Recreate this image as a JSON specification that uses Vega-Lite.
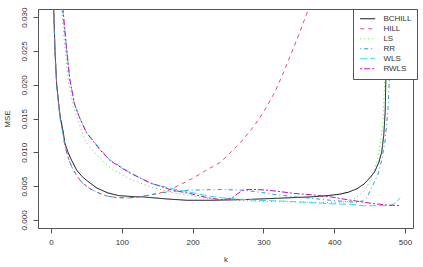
{
  "$schema": "https://vega.github.io/schema/vega-lite/v6.json",
  "width": 375,
  "height": 219,
  "autosize": {"type": "none"},
  "padding": {"left": 38, "top": 9, "right": 10, "bottom": 39},
  "background": "white",
  "config": {
    "font": "Liberation Sans",
    "view": {"stroke": "#555", "strokeWidth": 1},
    "axis": {"grid": false, "domain": false, "tickColor": "#555", "tickSize": 5, "labelColor": "#333", "titleColor": "#333", "labelFontSize": 8, "titleFontSize": 8, "titleFontWeight": "normal", "labelFont": "Liberation Sans", "titleFont": "Liberation Sans"}
  },
  "data": {"values": [
    {"s":"BCHILL","k":2,"v":0.040},{"s":"BCHILL","k":3.8,"v":0.0312},{"s":"BCHILL","k":5.6,"v":0.025},{"s":"BCHILL","k":8,"v":0.020},{"s":"BCHILL","k":11,"v":0.017},{"s":"BCHILL","k":13,"v":0.0152},{"s":"BCHILL","k":17.4,"v":0.0129},{"s":"BCHILL","k":19.4,"v":0.0114},{"s":"BCHILL","k":24,"v":0.0100},{"s":"BCHILL","k":28.7,"v":0.0089},{"s":"BCHILL","k":36,"v":0.0074},{"s":"BCHILL","k":44,"v":0.0064},{"s":"BCHILL","k":52,"v":0.0057},{"s":"BCHILL","k":65,"v":0.0047},{"s":"BCHILL","k":80,"v":0.0040},{"s":"BCHILL","k":95,"v":0.0036},{"s":"BCHILL","k":116,"v":0.00344},{"s":"BCHILL","k":130,"v":0.0034},{"s":"BCHILL","k":163,"v":0.0031},{"s":"BCHILL","k":178,"v":0.0030},{"s":"BCHILL","k":192,"v":0.0029},{"s":"BCHILL","k":225,"v":0.0029},{"s":"BCHILL","k":273,"v":0.0030},{"s":"BCHILL","k":320,"v":0.0032},{"s":"BCHILL","k":367,"v":0.0034},{"s":"BCHILL","k":391,"v":0.0036},{"s":"BCHILL","k":408,"v":0.0038},{"s":"BCHILL","k":420,"v":0.0041},{"s":"BCHILL","k":432,"v":0.0046},{"s":"BCHILL","k":442,"v":0.0053},{"s":"BCHILL","k":451,"v":0.0063},{"s":"BCHILL","k":457,"v":0.0071},{"s":"BCHILL","k":463,"v":0.0085},{"s":"BCHILL","k":467,"v":0.0100},{"s":"BCHILL","k":470,"v":0.0125},{"s":"BCHILL","k":472,"v":0.016},{"s":"BCHILL","k":473,"v":0.021},{"s":"BCHILL","k":474,"v":0.027},{"s":"BCHILL","k":475,"v":0.034},

    {"s":"HILL","k":2,"v":0.040},{"s":"HILL","k":3.8,"v":0.0312},{"s":"HILL","k":5.6,"v":0.025},{"s":"HILL","k":8,"v":0.020},{"s":"HILL","k":11,"v":0.0168},{"s":"HILL","k":13,"v":0.015},{"s":"HILL","k":17.4,"v":0.0125},{"s":"HILL","k":19.4,"v":0.0110},{"s":"HILL","k":24,"v":0.0093},{"s":"HILL","k":29,"v":0.0079},{"s":"HILL","k":36,"v":0.0066},{"s":"HILL","k":43,"v":0.0056},{"s":"HILL","k":55,"v":0.0046},{"s":"HILL","k":69,"v":0.0039},{"s":"HILL","k":80,"v":0.0035},{"s":"HILL","k":93,"v":0.0033},{"s":"HILL","k":110,"v":0.00325},{"s":"HILL","k":125,"v":0.0034},{"s":"HILL","k":140,"v":0.0037},{"s":"HILL","k":163,"v":0.0042},{"s":"HILL","k":182,"v":0.0052},{"s":"HILL","k":201,"v":0.0062},{"s":"HILL","k":220,"v":0.0074},{"s":"HILL","k":239,"v":0.0085},{"s":"HILL","k":253,"v":0.0099},{"s":"HILL","k":268,"v":0.0115},{"s":"HILL","k":281,"v":0.0131},{"s":"HILL","k":293,"v":0.0148},{"s":"HILL","k":305,"v":0.0168},{"s":"HILL","k":317,"v":0.0191},{"s":"HILL","k":328,"v":0.0217},{"s":"HILL","k":347,"v":0.0266},{"s":"HILL","k":363,"v":0.031},{"s":"HILL","k":372,"v":0.0335},

    {"s":"LS","k":2,"v":0.08},{"s":"LS","k":12,"v":0.036},{"s":"LS","k":15.5,"v":0.0302},{"s":"LS","k":19.4,"v":0.0258},{"s":"LS","k":24,"v":0.0208},{"s":"LS","k":31,"v":0.0169},{"s":"LS","k":38,"v":0.0148},{"s":"LS","k":48,"v":0.0118},{"s":"LS","k":62,"v":0.0099},{"s":"LS","k":76,"v":0.0084},{"s":"LS","k":88,"v":0.0074},{"s":"LS","k":100,"v":0.0067},{"s":"LS","k":112,"v":0.0060},{"s":"LS","k":140,"v":0.0049},{"s":"LS","k":168,"v":0.0041},{"s":"LS","k":196,"v":0.0036},{"s":"LS","k":225,"v":0.0031},{"s":"LS","k":280,"v":0.0028},{"s":"LS","k":325,"v":0.0027},{"s":"LS","k":395,"v":0.00255},{"s":"LS","k":423,"v":0.0027},{"s":"LS","k":436,"v":0.0037},{"s":"LS","k":443,"v":0.0043},{"s":"LS","k":450,"v":0.0057},{"s":"LS","k":457,"v":0.0075},{"s":"LS","k":462,"v":0.0094},{"s":"LS","k":466,"v":0.0118},{"s":"LS","k":469,"v":0.0150},{"s":"LS","k":471,"v":0.020},{"s":"LS","k":472,"v":0.026},{"s":"LS","k":473,"v":0.033},

    {"s":"RR","k":2,"v":0.040},{"s":"RR","k":3.8,"v":0.0312},{"s":"RR","k":5.6,"v":0.025},{"s":"RR","k":8,"v":0.020},{"s":"RR","k":11,"v":0.0168},{"s":"RR","k":13,"v":0.015},{"s":"RR","k":17.4,"v":0.0125},{"s":"RR","k":19.4,"v":0.0110},{"s":"RR","k":24,"v":0.0093},{"s":"RR","k":29,"v":0.0079},{"s":"RR","k":36,"v":0.0066},{"s":"RR","k":43,"v":0.0056},{"s":"RR","k":55,"v":0.0046},{"s":"RR","k":69,"v":0.0039},{"s":"RR","k":80,"v":0.0035},{"s":"RR","k":93,"v":0.0033},{"s":"RR","k":110,"v":0.00325},{"s":"RR","k":125,"v":0.0034},{"s":"RR","k":140,"v":0.0037},{"s":"RR","k":168,"v":0.0042},{"s":"RR","k":196,"v":0.0044},{"s":"RR","k":225,"v":0.00447},{"s":"RR","k":240,"v":0.0045},{"s":"RR","k":271,"v":0.0044},{"s":"RR","k":295,"v":0.0041},{"s":"RR","k":319,"v":0.0037},{"s":"RR","k":342,"v":0.00345},{"s":"RR","k":366,"v":0.0032},{"s":"RR","k":395,"v":0.0029},{"s":"RR","k":430,"v":0.0026},{"s":"RR","k":440,"v":0.0028},{"s":"RR","k":446,"v":0.0033},{"s":"RR","k":455,"v":0.0052},{"s":"RR","k":462,"v":0.0068},{"s":"RR","k":467,"v":0.0088},{"s":"RR","k":472,"v":0.0118},{"s":"RR","k":476,"v":0.0163},{"s":"RR","k":479,"v":0.0236},{"s":"RR","k":481,"v":0.032},

    {"s":"WLS","k":2,"v":0.08},{"s":"WLS","k":12,"v":0.037},{"s":"WLS","k":16.5,"v":0.031},{"s":"WLS","k":21.5,"v":0.0258},{"s":"WLS","k":26.5,"v":0.0208},{"s":"WLS","k":33,"v":0.0172},{"s":"WLS","k":40,"v":0.0152},{"s":"WLS","k":50,"v":0.0130},{"s":"WLS","k":69,"v":0.0105},{"s":"WLS","k":83,"v":0.0089},{"s":"WLS","k":92,"v":0.0083},{"s":"WLS","k":112,"v":0.0070},{"s":"WLS","k":140,"v":0.0054},{"s":"WLS","k":168,"v":0.0047},{"s":"WLS","k":196,"v":0.0041},{"s":"WLS","k":225,"v":0.0035},{"s":"WLS","k":239,"v":0.0033},{"s":"WLS","k":260,"v":0.0031},{"s":"WLS","k":290,"v":0.0029},{"s":"WLS","k":323,"v":0.0028},{"s":"WLS","k":360,"v":0.0026},{"s":"WLS","k":394,"v":0.0024},{"s":"WLS","k":424,"v":0.0023},{"s":"WLS","k":441,"v":0.0021},{"s":"WLS","k":479,"v":0.0021},{"s":"WLS","k":488,"v":0.0026},{"s":"WLS","k":493,"v":0.0033},

    {"s":"RWLS","k":2,"v":0.08},{"s":"RWLS","k":12,"v":0.037},{"s":"RWLS","k":17,"v":0.031},{"s":"RWLS","k":21.5,"v":0.0258},{"s":"RWLS","k":26.5,"v":0.0208},{"s":"RWLS","k":33,"v":0.0172},{"s":"RWLS","k":40,"v":0.0152},{"s":"RWLS","k":50,"v":0.0129},{"s":"RWLS","k":69,"v":0.0104},{"s":"RWLS","k":83,"v":0.0088},{"s":"RWLS","k":92,"v":0.0082},{"s":"RWLS","k":112,"v":0.0069},{"s":"RWLS","k":140,"v":0.0055},{"s":"RWLS","k":168,"v":0.0045},{"s":"RWLS","k":196,"v":0.0039},{"s":"RWLS","k":225,"v":0.0032},{"s":"RWLS","k":240,"v":0.0030},{"s":"RWLS","k":250,"v":0.0031},{"s":"RWLS","k":258,"v":0.0034},{"s":"RWLS","k":265,"v":0.0040},{"s":"RWLS","k":272,"v":0.0044},{"s":"RWLS","k":280,"v":0.0045},{"s":"RWLS","k":290,"v":0.0045},{"s":"RWLS","k":305,"v":0.0044},{"s":"RWLS","k":322,"v":0.0042},{"s":"RWLS","k":345,"v":0.0039},{"s":"RWLS","k":370,"v":0.0037},{"s":"RWLS","k":395,"v":0.0034},{"s":"RWLS","k":418,"v":0.0030},{"s":"RWLS","k":452,"v":0.00245},{"s":"RWLS","k":475,"v":0.0022},{"s":"RWLS","k":492,"v":0.0021}
  ]},
  "mark": {"type": "line", "clip": true, "strokeWidth": 1},
  "encoding": {
    "x": {"field": "k", "type": "quantitative", "scale": {"domain": [-18.4, 511.3], "nice": false, "zero": false},
      "axis": {"values": [0, 100, 200, 300, 400, 500], "title": "k", "labelPadding": 5, "titlePadding": 9, "labelAngle": 0}},
    "y": {"field": "v", "type": "quantitative", "scale": {"domain": [-0.0012, 0.0312], "nice": false, "zero": false},
      "axis": {"values": [0, 0.005, 0.01, 0.015, 0.02, 0.025, 0.03], "format": ".3f", "title": "MSE", "labelAngle": -90, "labelAlign": "center", "labelBaseline": "bottom", "labelPadding": 5, "titlePadding": 9}},
    "color": {"field": "s", "type": "nominal", "sort": ["BCHILL", "HILL", "LS", "RR", "WLS", "RWLS"],
      "scale": {"domain": ["BCHILL", "HILL", "LS", "RR", "WLS", "RWLS"], "range": ["#000000", "#DF536B", "#61D04F", "#2297E6", "#28E2E5", "#CD0BBC"]},
      "legend": {"title": null, "orient": "none", "legendX": 315, "legendY": 0, "strokeColor": "#555", "fillColor": "white", "padding": 5, "symbolType": "stroke", "symbolSize": 225, "symbolOffset": 1.7, "clipHeight": 9.5, "symbolStrokeWidth": 1, "labelFontSize": 8, "labelColor": "#333", "labelOffset": 7.7, "rowPadding": 0, "labelFont": "Liberation Sans"}},
    "strokeDash": {"field": "s", "type": "nominal", "sort": ["BCHILL", "HILL", "LS", "RR", "WLS", "RWLS"],
      "scale": {"domain": ["BCHILL", "HILL", "LS", "RR", "WLS", "RWLS"], "range": [[1, 0], [4, 4], [1, 3], [1, 3, 4, 3], [7, 3], [2, 2, 6, 2]]},
      "legend": {"title": null, "orient": "none", "legendX": 315, "legendY": 0, "strokeColor": "#555", "fillColor": "white", "padding": 5, "symbolType": "stroke", "symbolSize": 225, "symbolOffset": 1.7, "clipHeight": 9.5, "symbolStrokeWidth": 1, "labelFontSize": 8, "labelColor": "#333", "labelOffset": 7.7, "rowPadding": 0, "labelFont": "Liberation Sans"}}
  }
}
